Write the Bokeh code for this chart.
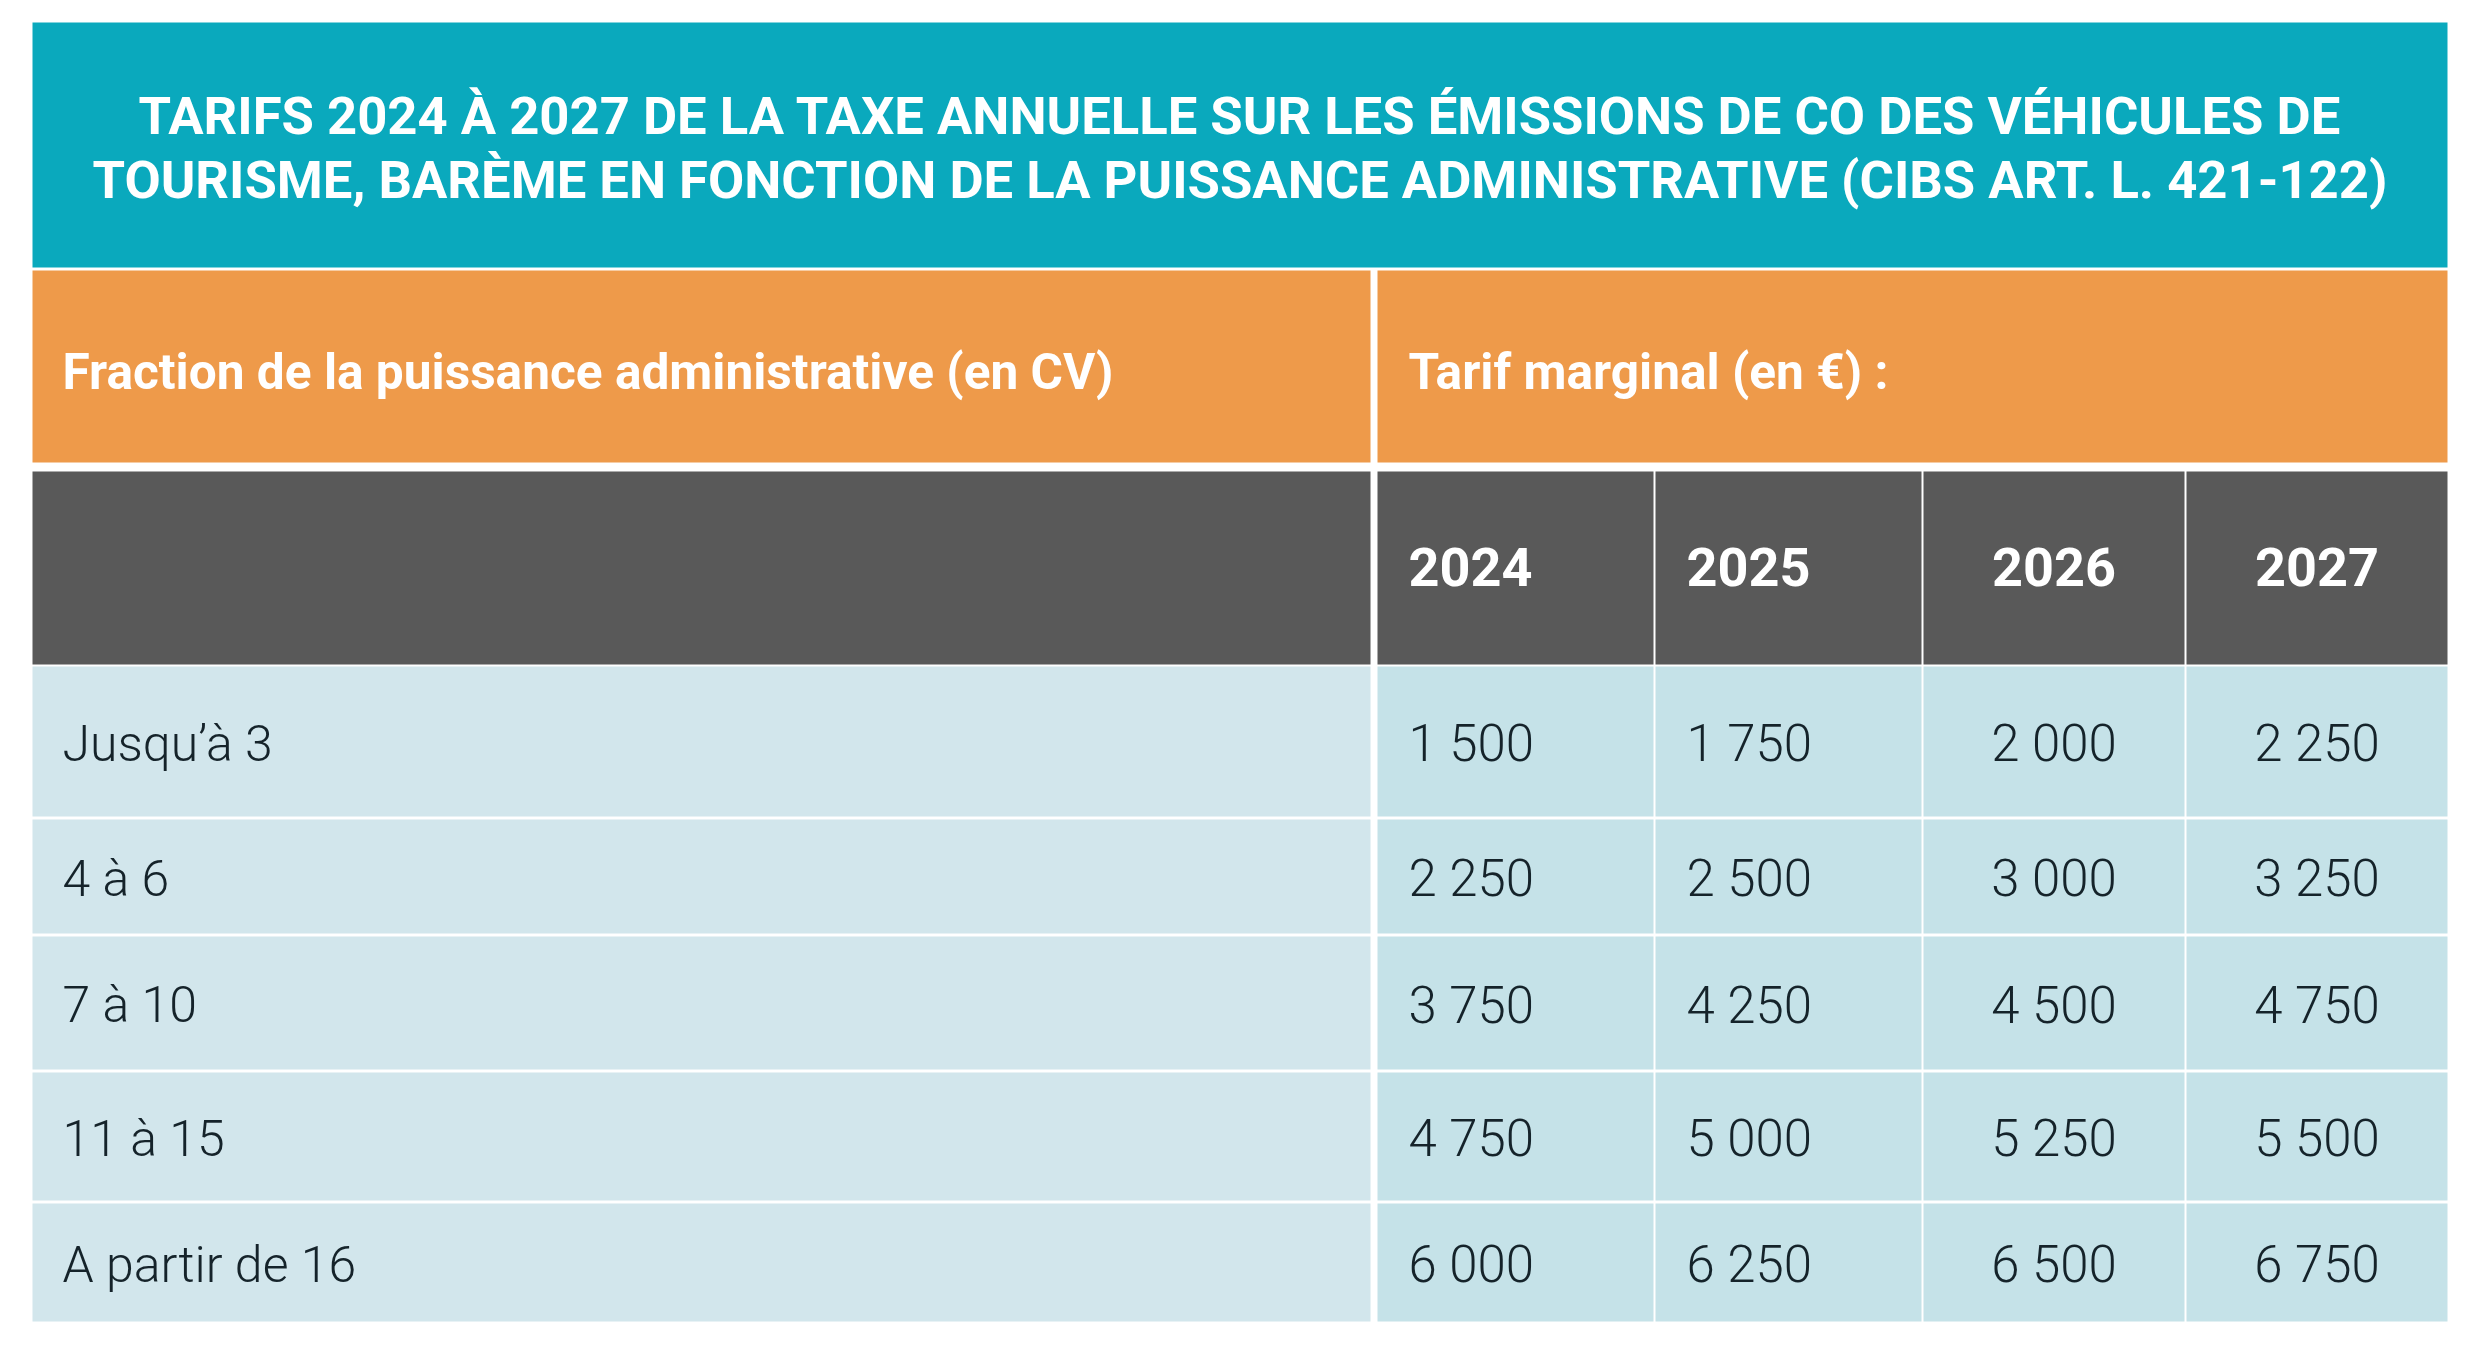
from bokeh.plotting import figure
from bokeh.models import Range1d, ColumnDataSource
from bokeh.core.properties import value
from bokeh.embed import file_html
from bokeh.resources import INLINE

# ---------------- data ----------------
title_lines = [
    "TARIFS 2024 À 2027 DE LA TAXE ANNUELLE SUR LES ÉMISSIONS DE CO DES VÉHICULES DE",
    "TOURISME, BARÈME EN FONCTION DE LA PUISSANCE ADMINISTRATIVE (CIBS ART. L. 421-122)",
]
header_left = "Fraction de la puissance administrative (en CV)"
header_right = "Tarif marginal (en €) :"
categories = ["Jusqu’à 3", "4 à 6", "7 à 10", "11 à 15", "A partir de 16"]
years = ["2024", "2025", "2026", "2027"]
tarif_2024 = [1500, 2250, 3750, 4750, 6000]
tarif_2025 = [1750, 2500, 4250, 5000, 6250]
tarif_2026 = [2000, 3000, 4500, 5250, 6500]
tarif_2027 = [2250, 3250, 4750, 5500, 6750]
series = [tarif_2024, tarif_2025, tarif_2026, tarif_2027]

# ---------------- layout (pixels) ----------------
TL, TR = 32, 2447
TITLE_T, TITLE_B = 22, 267
HEAD_T, HEAD_B = 270, 462
YEAR_T, YEAR_B = 471, 664
SPLIT_L, SPLIT_R = 1370, 1377
COL_L = [1377, 1655, 1923, 2186]
COL_R = [1653, 1921, 2184, 2447]
ROW_T = [666, 819, 936, 1072, 1203]
ROW_B = [816, 933, 1069, 1200, 1321]
COL_ALIGN = ["left", "left", "center", "center"]
PAD = 31
LPAD = 30

TEAL = "#0aa9bd"
ORANGE = "#ee9a4a"
DARK = "#595959"
LEFT_BG = "#d2e6ec"
RIGHT_BG = "#c5e2e8"
TXT = "#15232a"

W, H = 2464, 1342
p = figure(width=W, height=H, output_backend="svg", toolbar_location=None,
           x_range=Range1d(0, W), y_range=Range1d(H, 0),
           min_border=0, x_axis_type=None, y_axis_type=None)
p.grid.visible = False
p.outline_line_color = None
p.background_fill_color = "white"
p.border_fill_color = "white"

# cells
quads = dict(left=[], right=[], top=[], bottom=[], color=[])
def cell(l, r, t, b, c):
    quads["left"].append(l); quads["right"].append(r)
    quads["top"].append(t); quads["bottom"].append(b); quads["color"].append(c)

cell(TL, TR, TITLE_T, TITLE_B, TEAL)
cell(TL, SPLIT_L, HEAD_T, HEAD_B, ORANGE)
cell(SPLIT_R, TR, HEAD_T, HEAD_B, ORANGE)
cell(TL, SPLIT_L, YEAR_T, YEAR_B, DARK)
for j in range(len(years)):
    cell(COL_L[j], COL_R[j], YEAR_T, YEAR_B, DARK)
for i in range(len(categories)):
    cell(TL, SPLIT_L, ROW_T[i], ROW_B[i], LEFT_BG)
    for j in range(len(years)):
        cell(COL_L[j], COL_R[j], ROW_T[i], ROW_B[i], RIGHT_BG)

p.quad(left="left", right="right", top="top", bottom="bottom", color="color",
       line_color=None, source=ColumnDataSource(quads))

FONT = value("Roboto")
LIGHT = value("Roboto Light, Roboto")

# title
cx = (TL + TR) / 2
p.text(x=[cx, cx], y=[115, 179], text=title_lines, text_align="center",
       text_baseline="middle", text_font=FONT, text_font_style="bold",
       text_font_size="52.6px", text_color="white")

# header row
p.text(x=[TL + LPAD, SPLIT_R + PAD], y=[371, 371], text=[header_left, header_right],
       text_align="left", text_baseline="middle", text_font=FONT,
       text_font_style="bold", text_font_size="49.6px", text_color="white")

def col_x(j):
    return COL_L[j] + PAD if COL_ALIGN[j] == "left" else (COL_L[j] + COL_R[j]) / 2

# year row
p.text(x=[col_x(j) for j in range(len(years))], y=[566] * len(years), text=years,
       text_align=COL_ALIGN, text_baseline="middle", text_font=FONT,
       text_font_style="bold", text_font_size="54px", text_color="white")

# data rows
def fmt(v):
    return f"{v:,}".replace(",", "\u202f")

ys = [(t + b) / 2 + 2 for t, b in zip(ROW_T, ROW_B)]
p.text(x=[TL + LPAD] * len(categories), y=ys, text=categories, text_align="left",
       text_baseline="middle", text_font=LIGHT, text_font_size="50px",
       text_color=TXT)

dx, dy, dt, da = [], [], [], []
for j, s in enumerate(series):
    for i, v in enumerate(s):
        dx.append(col_x(j)); dy.append(ys[i]); dt.append(fmt(v)); da.append(COL_ALIGN[j])
p.text(x="x", y="y", text="t", text_align="a", text_baseline="middle",
       text_font=LIGHT, text_font_size="51px", text_color=TXT,
       source=ColumnDataSource(dict(x=dx, y=dy, t=dt, a=da)))

open("out.html", "w").write(file_html(p, INLINE))
